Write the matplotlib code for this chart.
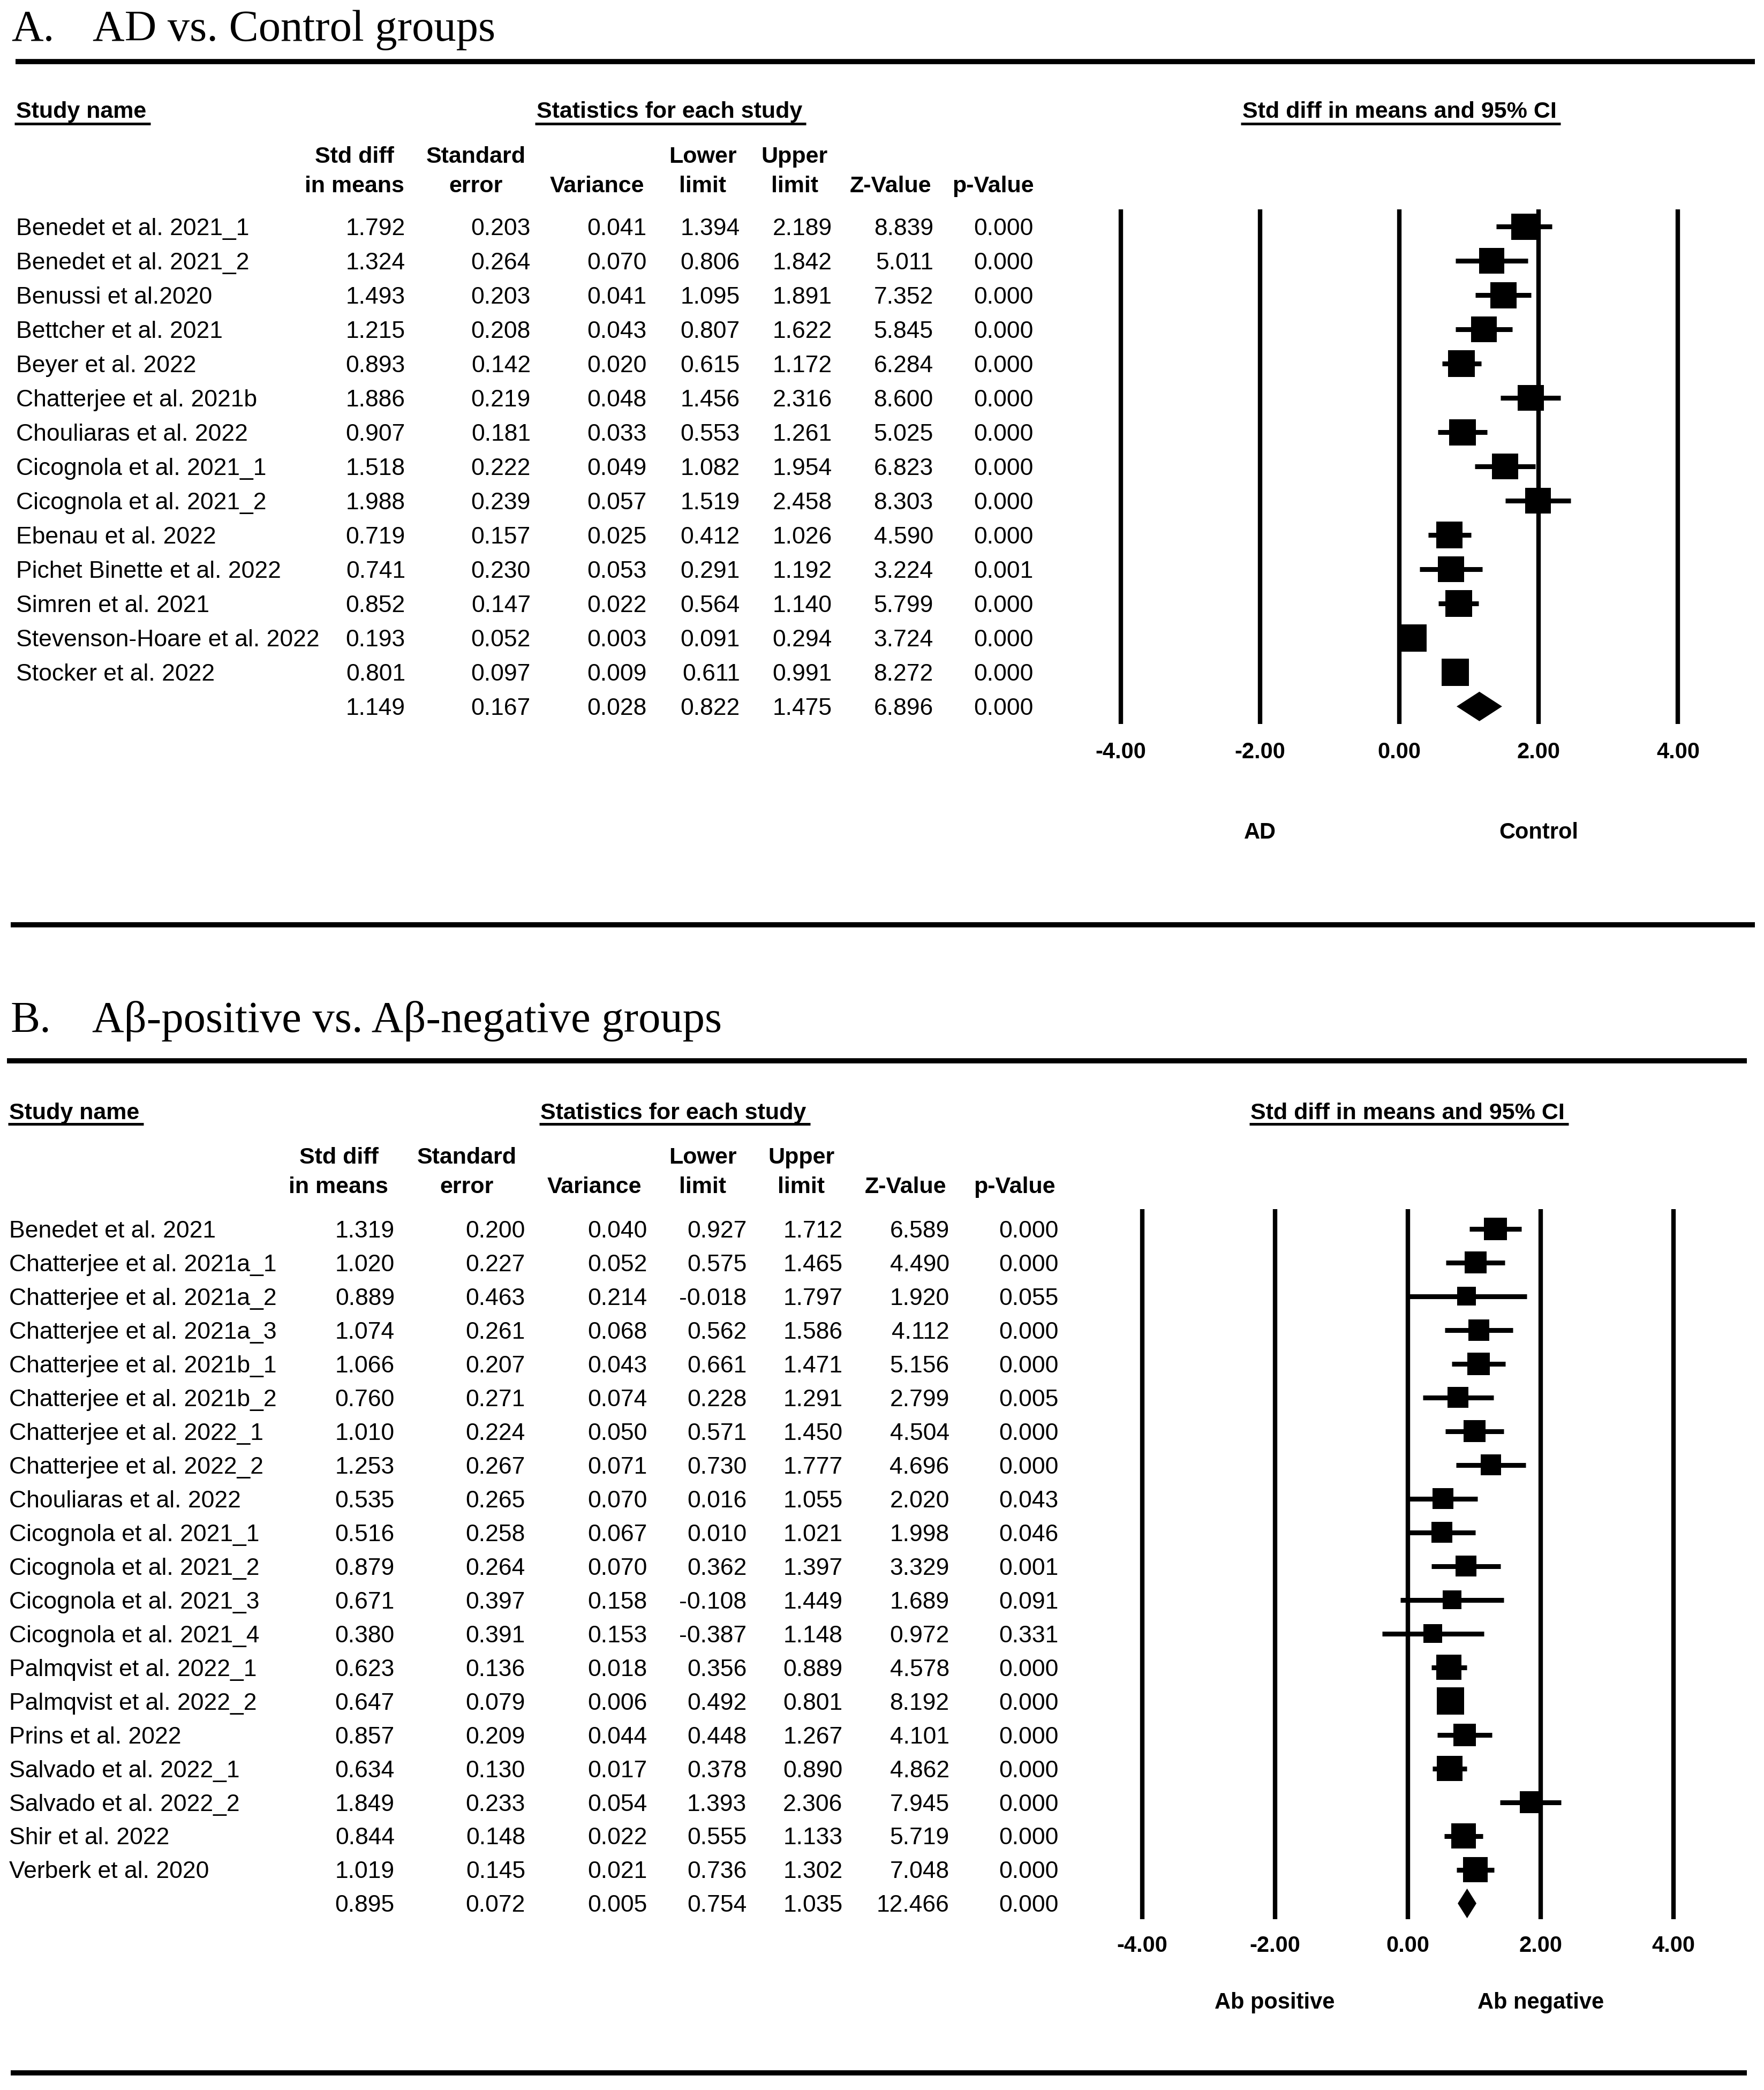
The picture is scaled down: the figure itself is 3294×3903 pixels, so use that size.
import numpy as np
import matplotlib.pyplot as plt
from matplotlib.lines import Line2D
from matplotlib.transforms import blended_transform_factory, offset_copy

# ---------------- dados painel A: AD vs controle ----------------
estudos_a = ['Benedet et al. 2021_1', 'Benedet et al. 2021_2', 'Benussi et al.2020',
             'Bettcher et al. 2021', 'Beyer et al. 2022', 'Chatterjee et al. 2021b',
             'Chouliaras et al. 2022', 'Cicognola et al. 2021_1', 'Cicognola et al. 2021_2',
             'Ebenau et al. 2022', 'Pichet Binette et al. 2022', 'Simren et al. 2021',
             'Stevenson-Hoare et al. 2022', 'Stocker et al. 2022']
smd_a = [1.792, 1.324, 1.493, 1.215, 0.893, 1.886, 0.907, 1.518, 1.988, 0.719, 0.741, 0.852, 0.193, 0.801]
se_a = [0.203, 0.264, 0.203, 0.208, 0.142, 0.219, 0.181, 0.222, 0.239, 0.157, 0.230, 0.147, 0.052, 0.097]
var_a = [0.041, 0.070, 0.041, 0.043, 0.020, 0.048, 0.033, 0.049, 0.057, 0.025, 0.053, 0.022, 0.003, 0.009]
inf_a = [1.394, 0.806, 1.095, 0.807, 0.615, 1.456, 0.553, 1.082, 1.519, 0.412, 0.291, 0.564, 0.091, 0.611]
sup_a = [2.189, 1.842, 1.891, 1.622, 1.172, 2.316, 1.261, 1.954, 2.458, 1.026, 1.192, 1.140, 0.294, 0.991]
z_a = [8.839, 5.011, 7.352, 5.845, 6.284, 8.600, 5.025, 6.823, 8.303, 4.590, 3.224, 5.799, 3.724, 8.272]
p_a = [0.000, 0.000, 0.000, 0.000, 0.000, 0.000, 0.000, 0.000, 0.000, 0.000, 0.001, 0.000, 0.000, 0.000]
resumo_a = [1.149, 0.167, 0.028, 0.822, 1.475, 6.896, 0.000]

# ---------------- dados painel B: Ab+ vs Ab- ----------------
estudos_b = ['Benedet et al. 2021', 'Chatterjee et al. 2021a_1', 'Chatterjee et al. 2021a_2',
             'Chatterjee et al. 2021a_3', 'Chatterjee et al. 2021b_1', 'Chatterjee et al. 2021b_2',
             'Chatterjee et al. 2022_1', 'Chatterjee et al. 2022_2', 'Chouliaras et al. 2022',
             'Cicognola et al. 2021_1', 'Cicognola et al. 2021_2', 'Cicognola et al. 2021_3',
             'Cicognola et al. 2021_4', 'Palmqvist et al. 2022_1', 'Palmqvist et al. 2022_2',
             'Prins et al. 2022', 'Salvado et al. 2022_1', 'Salvado et al. 2022_2',
             'Shir et al. 2022', 'Verberk et al. 2020']
smd_b = [1.319, 1.020, 0.889, 1.074, 1.066, 0.760, 1.010, 1.253, 0.535, 0.516,
         0.879, 0.671, 0.380, 0.623, 0.647, 0.857, 0.634, 1.849, 0.844, 1.019]
se_b = [0.200, 0.227, 0.463, 0.261, 0.207, 0.271, 0.224, 0.267, 0.265, 0.258,
        0.264, 0.397, 0.391, 0.136, 0.079, 0.209, 0.130, 0.233, 0.148, 0.145]
var_b = [0.040, 0.052, 0.214, 0.068, 0.043, 0.074, 0.050, 0.071, 0.070, 0.067,
         0.070, 0.158, 0.153, 0.018, 0.006, 0.044, 0.017, 0.054, 0.022, 0.021]
inf_b = [0.927, 0.575, -0.018, 0.562, 0.661, 0.228, 0.571, 0.730, 0.016, 0.010,
         0.362, -0.108, -0.387, 0.356, 0.492, 0.448, 0.378, 1.393, 0.555, 0.736]
sup_b = [1.712, 1.465, 1.797, 1.586, 1.471, 1.291, 1.450, 1.777, 1.055, 1.021,
         1.397, 1.449, 1.148, 0.889, 0.801, 1.267, 0.890, 2.306, 1.133, 1.302]
z_b = [6.589, 4.490, 1.920, 4.112, 5.156, 2.799, 4.504, 4.696, 2.020, 1.998,
       3.329, 1.689, 0.972, 4.578, 8.192, 4.101, 4.862, 7.945, 5.719, 7.048]
p_b = [0.000, 0.000, 0.055, 0.000, 0.000, 0.005, 0.000, 0.000, 0.043, 0.046,
       0.001, 0.091, 0.331, 0.000, 0.000, 0.000, 0.000, 0.000, 0.000, 0.000]
resumo_b = [0.895, 0.072, 0.005, 0.754, 1.035, 12.466, 0.000]

ticks = [-4, -2, 0, 2, 4]
tick_labels = ['-4.00', '-2.00', '0.00', '2.00', '4.00']

# layout medido na referencia reduzida (1323 x 1568)
W_REF, H_REF = 1323.0, 1568.0
PT_REF = 0.72 * 3294 / 1323   # pontos por px da referencia
SANS = 'Liberation Sans'
SERIF = 'Liberation Serif'

fig = plt.figure(figsize=(32.94, 39.03), dpi=100)


def fx(x):
    return x / W_REF


def fy(y):
    return 1 - y / H_REF


def meia_cap(size):
    return 0.716 * size / 2 / PT_REF


def texto(x, y, s, size=31, weight='bold', ha='left'):
    # y = centro das maiusculas
    return fig.text(fx(x), fy(y + meia_cap(size)), s, fontsize=size, fontweight=weight,
                    ha=ha, va='baseline', family=SANS)


def linha(x0, x1, y, lw):
    fig.add_artist(Line2D([fx(x0), fx(x1)], [fy(y), fy(y)], transform=fig.transFigure,
                          color='black', lw=lw, solid_capstyle='butt'))


def sublinhado(t, y):
    r = fig.canvas.get_renderer()
    bb = t.get_window_extent(renderer=r)
    x0 = bb.x0 / fig.bbox.width * W_REF
    x1 = bb.x1 / fig.bbox.width * W_REF
    linha(x0 - 1, x1 + 3, y, 3.6)


def tamanhos(smd, se):
    # tamanho do quadrado pelo peso relativo (efeitos aleatorios, DerSimonian-Laird)
    y = np.array(smd)
    v = np.array(se) ** 2
    w = 1 / v
    ybar = np.sum(w * y) / np.sum(w)
    q = np.sum(w * (y - ybar) ** 2)
    c = np.sum(w) - np.sum(w ** 2) / np.sum(w)
    tau2 = max(0.0, (q - (len(y) - 1)) / c)
    wr = 1 / (v + tau2)
    rel = wr / wr.max()
    lado_px = np.maximum(28 + 23 * rel, 35)
    return lado_px * 0.72


def painel(L, titulo, letra, nomes, cols, resumo, rot_esq, rot_dir):
    smd, se, var, inf, sup, z, p = cols
    n = len(nomes)
    linhas_y = np.arange(n)

    # titulo e regua
    fig.text(fx(L['xl']), fy(L['ytit']), letra, fontsize=59.5, family=SERIF, va='baseline')
    fig.text(fx(L['xt']), fy(L['ytit']), titulo, fontsize=59.5, family=SERIF, va='baseline')
    linha(L['rx0'], L['rx1'], L['yreg'], 7)

    # eixo do forest plot
    u = (L['x4'] - L['xm4']) / 8
    left = L['xm4'] - 0.6 * u
    ax = fig.add_axes([fx(left), fy(L['bot']), 9.2 * u / W_REF, (L['bot'] - L['top']) / H_REF])
    ax.set_xlim(-4.6, 4.6)
    ax.set_ylim((L['bot'] - L['y0']) / L['dy'], (L['top'] - L['y0']) / L['dy'])
    ax.patch.set_visible(False)
    for s in ax.spines.values():
        s.set_visible(False)
    ax.set_yticks([])
    ax.set_xticks(ticks, labels=tick_labels, fontsize=30, fontweight='bold', family=SANS)
    ax.tick_params(axis='x', length=0, pad=L['pad'])

    for t in ticks:
        ax.axvline(t, color='black', lw=6, zorder=1)
    ax.hlines(linhas_y, inf, sup, color='black', lw=6.5, zorder=2)
    ms = tamanhos(smd, se)
    ax.scatter(smd, linhas_y, marker='s', s=ms ** 2, c='black', linewidths=0, zorder=3)
    h = L['hdia']
    ax.fill([resumo[3], resumo[0], resumo[4], resumo[0]], [n, n - h, n, n + h],
            color='black', lw=0, zorder=3)

    # rotulos de direcao
    tr = blended_transform_factory(ax.transData, fig.transFigure)
    ax.text(-2, fy(L['ydir'] + meia_cap(30)), rot_esq, transform=tr, ha='center', va='baseline',
            fontsize=30, fontweight='bold', family=SANS)
    ax.text(2, fy(L['ydir'] + meia_cap(30)), rot_dir, transform=tr, ha='center', va='baseline',
            fontsize=30, fontweight='bold', family=SANS)

    # cabecalhos
    t1 = texto(L['xname'], L['yh'], 'Study name')
    sublinhado(t1, L['yul'])
    t2 = texto(L['xstat'], L['yh'], 'Statistics for each study', ha='center')
    sublinhado(t2, L['yul'])
    x0 = L['xm4'] + 4 * u
    t3 = texto(x0, L['yh'], 'Std diff in means and 95% CI', ha='center')
    sublinhado(t3, L['yul'])

    h1 = ['Std diff', 'Standard', '', 'Lower', 'Upper', '', '']
    h2 = ['in means', 'error', 'Variance', 'limit', 'limit', 'Z-Value', 'p-Value']
    for xc, a, b in zip(L['hx'], h1, h2):
        if a:
            texto(xc, L['yh1'], a, ha='center')
        texto(xc, L['yh2'], b, ha='center')

    # linhas da tabela, alinhadas com o eixo
    trr = offset_copy(blended_transform_factory(fig.transFigure, ax.transData), fig=fig,
                      y=-0.716 * 32 / 2, units='points')
    for i in range(n):
        ax.text(fx(L['xname']), i, nomes[i], transform=trr, fontsize=32, family=SANS, va='baseline')
        for xr, col in zip(L['rx'], cols):
            ax.text(fx(xr), i, f'{col[i]:.3f}', transform=trr, fontsize=32, family=SANS,
                    va='baseline', ha='right')
    for xr, val in zip(L['rx'], resumo):
        ax.text(fx(xr), n, f'{val:.3f}', transform=trr, fontsize=32, family=SANS,
                va='baseline', ha='right')

    linha(L['bx0'], L['bx1'], L['ybot'], 7)


lay_a = dict(xl=8.7, xt=69.6, ytit=30.5, rx0=11.7, rx1=1316, yreg=46,
             xm4=840.5, x4=1258.5, top=157, bot=543, y0=170, dy=25.714, pad=24,
             hdia=0.43, ydir=623, xname=12, xstat=502, yh=82.3, yul=92.8,
             yh1=115.8, yh2=137.9,
             hx=[266, 357, 448, 527, 596, 668, 745],
             rx=[304, 398, 485, 555, 624, 700, 775],
             bx0=8, bx1=1316, ybot=694)

lay_b = dict(xl=8, xt=69, ytit=774.3, rx0=5.4, rx1=1310, yreg=796,
             xm4=856.5, x4=1255, top=907, bot=1440, y0=922, dy=25.3, pad=21.5,
             hdia=0.44, ydir=1501, xname=7, xstat=505, yh=833.4, yul=843.4,
             yh1=866.7, yh2=888.9,
             hx=[254, 350, 446, 527, 601, 679, 761],
             rx=[296, 394, 485.5, 560, 632, 712, 794],
             bx0=8, bx1=1310, ybot=1555)

painel(lay_a, 'AD vs. Control groups', 'A.', estudos_a,
       [smd_a, se_a, var_a, inf_a, sup_a, z_a, p_a], resumo_a, 'AD', 'Control')
painel(lay_b, 'A\u03b2-positive vs. A\u03b2-negative groups', 'B.', estudos_b,
       [smd_b, se_b, var_b, inf_b, sup_b, z_b, p_b], resumo_b, 'Ab positive', 'Ab negative')

fig.savefig('out.png', dpi=100, facecolor='white')
